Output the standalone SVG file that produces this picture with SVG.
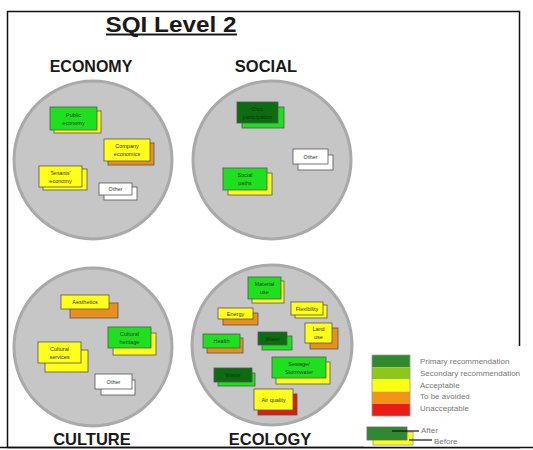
<svg xmlns="http://www.w3.org/2000/svg" width="533" height="450" viewBox="0 0 533 450">
<style>
.frame{fill:#ffffff;stroke:#111;stroke-width:1.5}
.circ{fill:#c6c6c6;stroke:#a9a9a9;stroke-width:3}
.head{font-family:"Liberation Sans",Arial,sans-serif;font-weight:bold;fill:#1a1a1a;text-anchor:middle}
.b{stroke:#555;stroke-width:0.8}
.t{font-family:"Liberation Sans",Arial,sans-serif;font-size:5.5px;fill:#333;text-anchor:middle}
.dg{fill:#0d6b12}
.g{fill:#1ee01e}
.y{fill:#ffff19}
.o{fill:#e8901e}
.r{fill:#e21b12}
.w{fill:#ffffff}
.leg{font-family:"Liberation Sans",Arial,sans-serif;font-size:8px;fill:#777}
.ln{stroke:#111;stroke-width:1.2}
</style>
<rect class="frame" x="7.5" y="11.5" width="512" height="436"/>
<text class="head" x="171" y="32" font-size="21.5" textLength="131" lengthAdjust="spacingAndGlyphs">SQI Level 2</text>
<line x1="106" y1="34.5" x2="237" y2="34.5" stroke="#1a1a1a" stroke-width="1.8"/>

<g id="economy">
<circle class="circ" cx="93" cy="160" r="79"/>
<text class="head" x="91" y="72" font-size="16">ECONOMY</text>
</g>
<g id="social">
<circle class="circ" cx="272" cy="160" r="79"/>
<text class="head" x="266" y="72" font-size="16.5">SOCIAL</text>
</g>
<g id="culture">
<circle class="circ" cx="93" cy="347" r="79"/>
<text class="head" x="92" y="445" font-size="16.5">CULTURE</text>
</g>
<g id="ecology">
<circle class="circ" cx="272" cy="345" r="80"/>
<text class="head" x="270" y="445" font-size="16.5">ECOLOGY</text>
</g>

<g id="public-economy"><rect class="y b" x="54" y="111" width="47" height="22"/><rect class="g b" x="50" y="107" width="47" height="23"/><text class="t" x="73.5" y="116.5">Public</text><text class="t" x="73.5" y="124.5">economy</text></g>
<g id="company-economics"><rect class="o b" x="108" y="143" width="46" height="22"/><rect class="y b" x="104" y="139" width="46" height="22"/><text class="t" x="127" y="148">Company</text><text class="t" x="127" y="156">economics</text></g>
<g id="tenants-economy"><rect class="y b" x="43" y="169" width="44" height="21"/><rect class="y b" x="39" y="166" width="43" height="21"/><text class="t" x="60.5" y="174.5">Tenants'</text><text class="t" x="60.5" y="182.5">economy</text></g>
<g id="economy-other"><rect class="w b" x="104" y="187" width="33" height="13"/><rect class="w b" x="99" y="183" width="33" height="12"/><text class="t" x="115.5" y="191">Other</text></g>

<g id="civic-participation"><rect class="g b" x="242" y="107" width="42" height="21"/><rect class="dg b" x="237" y="102" width="41" height="21"/><text class="t" x="257.5" y="110.5" style="fill:#0a3a0a">Civic</text><text class="t" x="257.5" y="118.5" style="fill:#0a3a0a">participation</text></g>
<g id="social-other"><rect class="w b" x="298" y="155" width="35" height="15"/><rect class="w b" x="293" y="149" width="35" height="15"/><text class="t" x="310.5" y="158.5">Other</text></g>
<g id="social-paths"><rect class="y b" x="228" y="173" width="44" height="22"/><rect class="g b" x="223" y="168" width="44" height="22"/><text class="t" x="245" y="176.5">Social</text><text class="t" x="245" y="184.5">paths</text></g>

<g id="aesthetics"><rect class="o b" x="70" y="303" width="48" height="15"/><rect class="y b" x="61" y="295" width="48" height="14"/><text class="t" x="85" y="304">Aesthetics</text></g>
<g id="cultural-heritage"><rect class="y b" x="113" y="333" width="43" height="22"/><rect class="g b" x="108" y="327" width="43" height="21"/><text class="t" x="129.5" y="335.5">Cultural</text><text class="t" x="129.5" y="343.5">heritage</text></g>
<g id="cultural-services"><rect class="y b" x="45" y="350" width="43" height="22"/><rect class="y b" x="38" y="342" width="43" height="21"/><text class="t" x="59.5" y="350.5">Cultural</text><text class="t" x="59.5" y="358.5">services</text></g>
<g id="culture-other"><rect class="w b" x="101" y="380" width="34" height="15"/><rect class="w b" x="95" y="374" width="37" height="15"/><text class="t" x="113.5" y="383.5">Other</text></g>

<g id="material-use"><rect class="y b" x="252" y="281" width="32" height="22"/><rect class="g b" x="248" y="277" width="33" height="22"/><text class="t" x="264.5" y="285.5">Material</text><text class="t" x="264.5" y="293.5">use</text></g>
<g id="energy"><rect class="o b" x="223" y="313" width="35" height="12"/><rect class="y b" x="218" y="308" width="35" height="11"/><text class="t" x="235.5" y="315.5">Energy</text></g>
<g id="flexibility"><rect class="y b" x="295" y="305" width="32" height="13"/><rect class="y b" x="291" y="302" width="32" height="13"/><text class="t" x="307" y="310.5">Flexibility</text></g>
<g id="land-use"><rect class="o b" x="310" y="328" width="28" height="21"/><rect class="y b" x="305" y="323" width="27" height="20"/><text class="t" x="318.5" y="331">Land</text><text class="t" x="318.5" y="339">use</text></g>
<g id="health"><rect class="o b" x="207" y="338" width="36" height="15"/><rect class="g b" x="203" y="334" width="37" height="14"/><text class="t" x="221.5" y="343">Health</text></g>
<g id="water"><rect class="g b" x="262" y="336" width="30" height="14"/><rect class="dg b" x="258" y="332" width="29" height="13"/><text class="t" x="272.5" y="340.5" style="fill:#0a3a0a">Water</text></g>
<g id="sewage-stormwater"><rect class="y b" x="276" y="362" width="54" height="22"/><rect class="g b" x="272" y="357" width="54" height="21"/><text class="t" x="299" y="365.5">Sewage/</text><text class="t" x="299" y="373.5">Stormwater</text></g>
<g id="waste"><rect class="g b" x="218" y="373" width="37" height="13"/><rect class="dg b" x="214" y="368" width="38" height="14"/><text class="t" x="233" y="377" style="fill:#0a3a0a">Waste</text></g>
<g id="air-quality"><rect class="r b" x="258" y="394" width="39" height="21"/><rect class="y b" x="254" y="389" width="39" height="21"/><text class="t" x="273.5" y="401.5">Air quality</text></g>

<g id="legend">
<rect x="364" y="346" width="169" height="101" fill="#ffffff"/>
<rect x="372" y="355" width="38" height="12.2" fill="#2f8a2f"/>
<rect x="372" y="367.2" width="38" height="12.2" fill="#8fc61c"/>
<rect x="372" y="379.4" width="38" height="12.2" fill="#ffff10"/>
<rect x="372" y="391.6" width="38" height="12.2" fill="#f29418"/>
<rect x="372" y="403.8" width="38" height="12.2" fill="#ea1c14"/>
<rect x="372" y="355" width="38" height="61" fill="none" stroke="#999" stroke-width="0.8"/>
<text class="leg" x="420" y="364">Primary recommendation</text>
<text class="leg" x="420" y="376">Secondary recommendation</text>
<text class="leg" x="420" y="388">Acceptable</text>
<text class="leg" x="420" y="399">To be avoided</text>
<text class="leg" x="420" y="411">Unacceptable</text>
<rect x="373" y="432" width="40" height="13" fill="#ffff10" stroke="#999" stroke-width="0.8"/>
<rect x="367" y="427" width="40" height="13" fill="#2f8a2f" stroke="#666" stroke-width="0.8"/>
</g>
<g id="connectors">
<line class="ln" x1="392" y1="431" x2="419" y2="431"/>
<line class="ln" x1="409" y1="440" x2="432" y2="440"/>
</g>
<text class="leg" x="421" y="433" font-size="6.5">After</text>
<text class="leg" x="434" y="444" font-size="6.5">Before</text>
<line x1="0" y1="447.5" x2="533" y2="447.5" stroke="#111" stroke-width="1.5"/>
</svg>
